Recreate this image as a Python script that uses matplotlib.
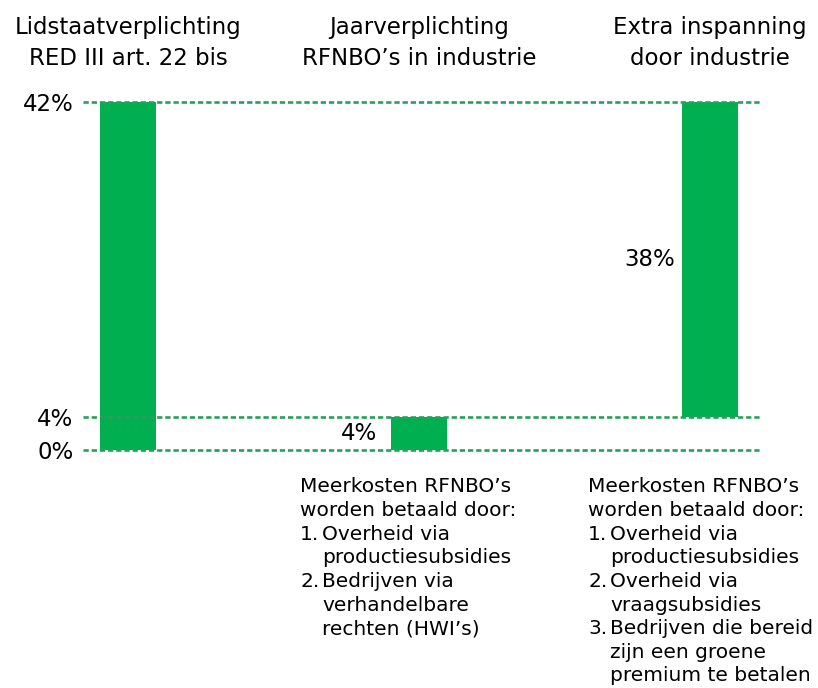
import matplotlib.pyplot as plt

titles = ["Lidstaatverplichting\nRED III art. 22 bis",
          "Jaarverplichting\nRFNBO\u2019s in industrie",
          "Extra inspanning\ndoor industrie"]
bar_bottoms = [0, 0, 4]
bar_heights = [42, 4, 38]
bar_labels = [None, "4%", "38%"]
levels = [0, 4, 42]
level_labels = ["0%", "4%", "42%"]

notes_mid = ["Meerkosten RFNBO\u2019s", "worden betaald door:"]
items_mid = [["Overheid via", "productiesubsidies"],
             ["Bedrijven via", "verhandelbare", "rechten (HWI\u2019s)"]]
notes_right = ["Meerkosten RFNBO\u2019s", "worden betaald door:"]
items_right = [["Overheid via", "productiesubsidies"],
               ["Overheid via", "vraagsubsidies"],
               ["Bedrijven die bereid", "zijn een groene", "premium te betalen"]]

bar_color = "#00B050"
line_color = "#28A05A"

W, H = 818, 688
fig = plt.figure(figsize=(W / 100, H / 100), dpi=100)
ax = fig.add_axes([83 / W, (H - 450) / H, 679 / W, 348 / H])

x = list(range(len(titles)))
ax.bar(x, bar_heights, bottom=bar_bottoms, width=0.19, color=bar_color, zorder=2)
for lv in levels:
    ax.axhline(lv, color=line_color, lw=1.9, ls=(0, (2, 1.1)), zorder=3,
               clip_on=False, solid_capstyle="butt", dash_capstyle="butt")

ax.set_xlim(-0.155, 2.179)
ax.set_ylim(0, 42)
for s in ax.spines.values():
    s.set_visible(False)
ax.set_xticks([])
ax.set_yticks(levels)
ax.set_yticklabels(level_labels, fontsize=16.5)
ax.tick_params(axis="y", length=0, pad=7)

for i, t in enumerate(titles):
    fig.text((83 + (x[i] + 0.155) * 291) / W, 1 - 43 / H, t, ha="center", va="center",
             fontsize=16.5, linespacing=1.4)

for i, lab in enumerate(bar_labels):
    if lab:
        gap = 0.025 if bar_bottoms[i] else 0.05
        ax.text(x[i] - 0.095 - gap, bar_bottoms[i] + bar_heights[i] / 2, lab,
                ha="right", va="center", fontsize=16.5)

fs = 14.5
step = 23.6


def note_block(x0, y0, header, items):
    y = y0
    for line in header:
        fig.text(x0 / W, 1 - y / H, line, fontsize=fs, va="center")
        y += step
    for n, item in enumerate(items, 1):
        fig.text(x0 / W, 1 - y / H, f"{n}.", fontsize=fs, va="center")
        for line in item:
            fig.text((x0 + 22) / W, 1 - y / H, line, fontsize=fs, va="center")
            y += step


note_block(300, 487, notes_mid, items_mid)
note_block(588, 487, notes_right, items_right)

fig.savefig("out.png", dpi=100)
